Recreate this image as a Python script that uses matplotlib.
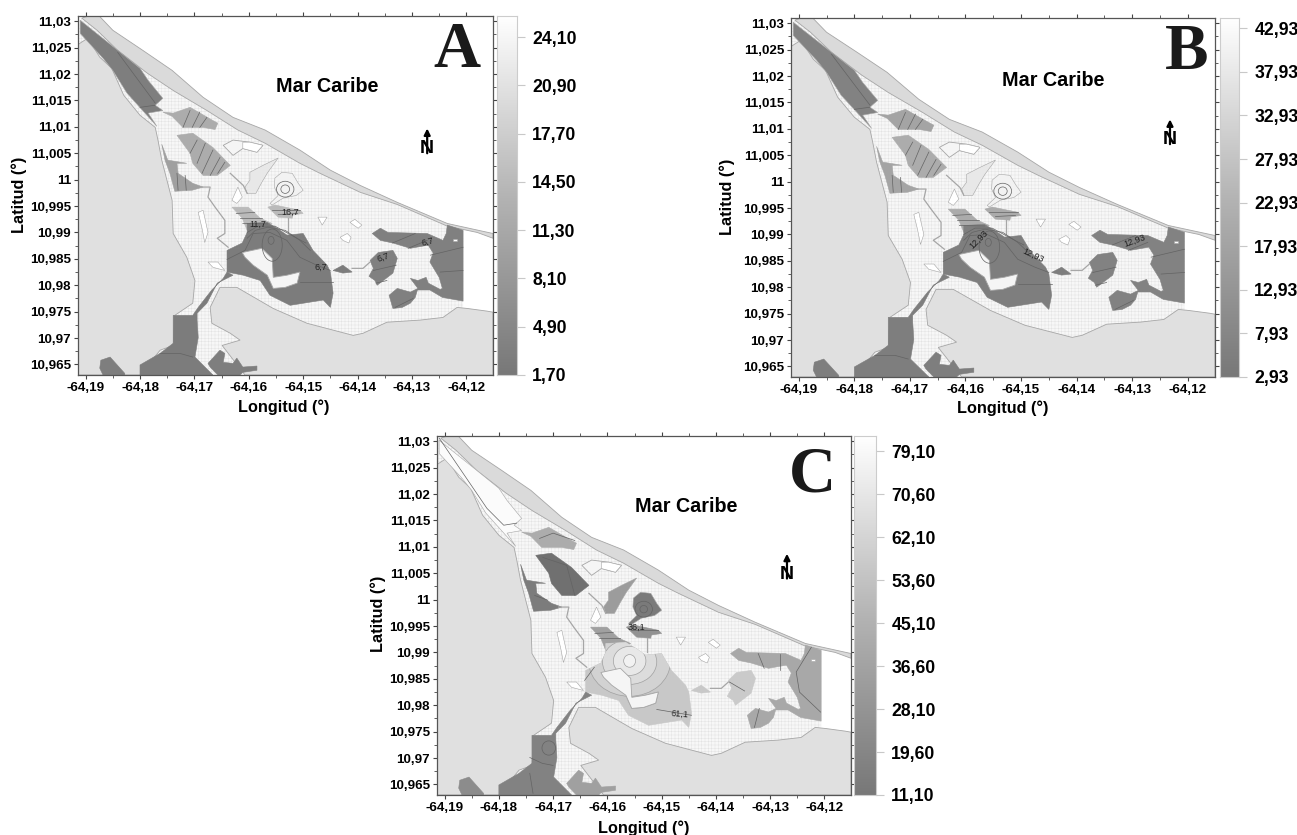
#!/usr/bin/env python3
import numpy as np
from matplotlib import pyplot as plt
from matplotlib.colors import LinearSegmentedColormap
from matplotlib.patches import Polygon, Ellipse

plt.rcParams['font.family'] = ['Liberation Sans', 'DejaVu Sans']
plt.rcParams['hatch.linewidth'] = 0.3

FIG_W, FIG_H = 1297, 835

# ejes
LON_TICKS = [-64.19, -64.18, -64.17, -64.16, -64.15, -64.14, -64.13, -64.12]
LON_LABELS = ['-64,19', '-64,18', '-64,17', '-64,16', '-64,15', '-64,14', '-64,13', '-64,12']
LAT_TICKS = [10.965, 10.97, 10.975, 10.98, 10.985, 10.99, 10.995, 11.0, 11.005, 11.01, 11.015, 11.02, 11.025, 11.03]
LAT_LABELS = ['10,965', '10,97', '10,975', '10,98', '10,985', '10,99', '10,995', '11', '11,005', '11,01', '11,015', '11,02', '11,025', '11,03']
LON_LIM = (-64.1914, -64.1151)
LAT_LIM = (10.963, 11.031)

# barras de color
CBAR_A = [1.7, 4.9, 8.1, 11.3, 14.5, 17.7, 20.9, 24.1]
CBAR_B = [2.93, 7.93, 12.93, 17.93, 22.93, 27.93, 32.93, 37.93, 42.93]
CBAR_C = [11.1, 19.6, 28.1, 36.6, 45.1, 53.6, 62.1, 70.6, 79.1]
CBAR_TOP = {'A': 25.5, 'B': 44.1, 'C': 82.1}

# geografia (lon, lat)
LAGOON = [(-64.1907, 11.0306), (-64.1841, 11.0255), (-64.1739, 11.018), (-64.1620, 11.010), (-64.1506, 11.0045),
          (-64.1395, 10.9982), (-64.1235, 10.9915), (-64.1206, 10.9907), (-64.1206, 10.9750), (-64.1206, 10.9630),
          (-64.1914, 10.9630), (-64.1914, 11.0300)]
BARRIER = [(-64.1898, 11.0309), (-64.1874, 11.0309), (-64.1850, 11.0283), (-64.1795, 11.0245), (-64.1741, 11.0207),
           (-64.1684, 11.0156), (-64.1629, 11.0118), (-64.1570, 11.0094), (-64.1506, 11.0056), (-64.1450, 11.0018),
           (-64.1395, 10.9989), (-64.1327, 10.9957), (-64.1235, 10.9917), (-64.1151, 10.9898), (-64.1151, 10.9889),
           (-64.1180, 10.9900), (-64.1235, 10.9912), (-64.1327, 10.9953), (-64.1395, 10.9976), (-64.1469, 11.0012),
           (-64.1506, 11.0031), (-64.1570, 11.0069), (-64.1620, 11.0094), (-64.1677, 11.0131), (-64.1739, 11.0169),
           (-64.1787, 11.0202), (-64.1841, 11.0245), (-64.1879, 11.0283), (-64.1907, 11.0306)]
WEST_LAND = [(-64.1914, 11.0256), (-64.1896, 11.0268), (-64.1874, 11.0232), (-64.1852, 11.0211), (-64.1830, 11.0160),
             (-64.1800, 11.0122), (-64.1772, 11.0099), (-64.1767, 11.0075), (-64.1760, 11.0037), (-64.1741, 10.9961),
             (-64.1739, 10.9898), (-64.1714, 10.9853), (-64.1699, 10.9809), (-64.1703, 10.9766), (-64.1736, 10.9743),
             (-64.1739, 10.9686), (-64.1763, 10.9677), (-64.1800, 10.9630), (-64.1914, 10.9630)]
SOUTH_LAND = [(-64.1671, 10.9758), (-64.1653, 10.9796), (-64.1622, 10.9796), (-64.1555, 10.9756), (-64.1493, 10.9728),
              (-64.1408, 10.9705), (-64.1390, 10.9709), (-64.1346, 10.9730), (-64.1285, 10.9734), (-64.1243, 10.9739),
              (-64.1217, 10.9758), (-64.1198, 10.9756), (-64.1162, 10.9751), (-64.1151, 10.9749), (-64.1151, 10.9630),
              (-64.1607, 10.9630), (-64.1649, 10.9686), (-64.1616, 10.9696), (-64.1634, 10.9709), (-64.1668, 10.9728)]

# zonas de la laguna
NW_ZONE = [(-64.1910, 11.0302), (-64.1841, 11.0245), (-64.1800, 11.0211), (-64.1785, 11.0188), (-64.1758, 11.0154),
           (-64.1772, 11.0141), (-64.1758, 11.0131), (-64.1785, 11.0126), (-64.1769, 11.0101), (-64.1824, 11.0164),
           (-64.1850, 11.0207), (-64.1868, 11.0230), (-64.1910, 11.0277)]
ZONE_2 = [(-64.1758, 11.0128), (-64.1739, 11.0126), (-64.1708, 11.0137), (-64.1666, 11.0112), (-64.1657, 11.0107),
          (-64.1662, 11.0095), (-64.1684, 11.0099), (-64.1721, 11.0099), (-64.1741, 11.0120)]
ZONE_3 = [(-64.1732, 11.0084), (-64.1703, 11.0088), (-64.1666, 11.0061), (-64.1634, 11.0027), (-64.1658, 11.0008),
          (-64.1684, 11.0008), (-64.1703, 11.0031), (-64.1708, 11.0050)]
ZONE_4 = [(-64.1760, 11.0067), (-64.1749, 11.0037), (-64.1714, 11.0031), (-64.1732, 11.0031), (-64.1730, 11.0012),
          (-64.1703, 10.9993), (-64.1684, 10.9986), (-64.1704, 10.9980), (-64.1736, 10.9978), (-64.1745, 11.0012),
          (-64.1754, 11.0037)]
ZONE_9 = [(-64.1631, 10.9948), (-64.1601, 10.9948), (-64.1579, 10.9927), (-64.1557, 10.9917), (-64.1603, 10.9904),
          (-64.1612, 10.9927)]
ZONE_10 = [(-64.1565, 10.9948), (-64.1552, 10.9952), (-64.1506, 10.9942), (-64.1500, 10.9936), (-64.1519, 10.9933),
           (-64.1520, 10.9927), (-64.1546, 10.9929)]
LAKE = [(-64.1640, 10.9866), (-64.1612, 10.9880), (-64.1603, 10.9900), (-64.1603, 10.9917), (-64.1566, 10.9919),
        (-64.1548, 10.9908), (-64.1530, 10.9895), (-64.1500, 10.9898), (-64.1482, 10.9866), (-64.1456, 10.9838),
        (-64.1450, 10.9825), (-64.1445, 10.9785), (-64.1450, 10.9758), (-64.1463, 10.9772), (-64.1524, 10.9762),
        (-64.1561, 10.9781), (-64.1579, 10.9809), (-64.1610, 10.9819), (-64.1640, 10.9825)]
CHANNEL = [(-64.1629, 10.9819), (-64.1658, 10.9804), (-64.1677, 10.9766), (-64.1695, 10.9747), (-64.1695, 10.9734),
           (-64.1693, 10.9701), (-64.1699, 10.9664), (-64.1666, 10.9630), (-64.1800, 10.9630), (-64.1800, 10.9649),
           (-64.1763, 10.9671), (-64.1739, 10.9690), (-64.1739, 10.9743), (-64.1703, 10.9743), (-64.1693, 10.9758),
           (-64.1668, 10.9791), (-64.1647, 10.9813), (-64.1640, 10.9825)]
ISLAND = [(-64.1612, 10.9862), (-64.1576, 10.9870), (-64.1557, 10.9851), (-64.1555, 10.9815), (-64.1530, 10.9819),
          (-64.1506, 10.9825), (-64.1511, 10.9804), (-64.1533, 10.9796), (-64.1555, 10.9794), (-64.1566, 10.9819),
          (-64.1592, 10.9838), (-64.1607, 10.9853)]
SOUTH_BAY = [(-64.1675, 10.9652), (-64.1653, 10.9677), (-64.1644, 10.9671), (-64.1647, 10.9654), (-64.1629, 10.9652),
             (-64.1622, 10.9662), (-64.1611, 10.9645), (-64.1585, 10.9647), (-64.1585, 10.9639), (-64.1611, 10.9635),
             (-64.1616, 10.9630), (-64.1657, 10.9630), (-64.1671, 10.9645)]
WEST_BLOB = [(-64.1872, 10.9658), (-64.1855, 10.9664), (-64.1828, 10.9633), (-64.1828, 10.9630), (-64.1868, 10.9630),
             (-64.1874, 10.9643)]
EAST_ZONE = [(-64.1373, 10.9898), (-64.1358, 10.9908), (-64.1344, 10.9900), (-64.1272, 10.9898), (-64.1243, 10.9885),
             (-64.1237, 10.9898), (-64.1235, 10.9914), (-64.1206, 10.9904), (-64.1206, 10.9770), (-64.1244, 10.9777),
             (-64.1267, 10.9791), (-64.1290, 10.9791), (-64.1294, 10.9777), (-64.1303, 10.9766), (-64.1318, 10.9758),
             (-64.1335, 10.9756), (-64.1342, 10.9781), (-64.1327, 10.9794), (-64.1303, 10.9787), (-64.1289, 10.9794),
             (-64.1303, 10.9813), (-64.1289, 10.9809), (-64.1274, 10.9815), (-64.1270, 10.9804), (-64.1248, 10.9792),
             (-64.1244, 10.9794), (-64.1250, 10.9815), (-64.1267, 10.9844), (-64.1261, 10.9861), (-64.1270, 10.9876),
             (-64.1303, 10.9870), (-64.1335, 10.9880), (-64.1358, 10.9885)]
ZONE_7 = [(-64.1377, 10.9847), (-64.1362, 10.9862), (-64.1335, 10.9866), (-64.1327, 10.9851), (-64.1335, 10.9823),
          (-64.1364, 10.9800), (-64.1368, 10.9809), (-64.1379, 10.9817), (-64.1371, 10.9832)]
LOOP = [(-64.1445, 10.9828), (-64.1427, 10.9838), (-64.1410, 10.9825), (-64.1427, 10.9823)]
POND_1 = [(-64.1598, 11.0014), (-64.1574, 11.0027), (-64.1546, 11.0041), (-64.1565, 11.0014), (-64.1576, 10.9995),
          (-64.1587, 10.9974), (-64.1603, 10.9974), (-64.1607, 10.9986), (-64.1598, 10.9999)]
POND_2 = [(-64.1552, 11.0003), (-64.1539, 11.0014), (-64.1520, 11.0012), (-64.1509, 10.9993), (-64.1500, 10.9980),
          (-64.1513, 10.9970), (-64.1537, 10.9965), (-64.1557, 10.9952), (-64.1561, 10.9955), (-64.1546, 10.9970),
          (-64.1553, 10.9986)]
POND_3 = [(-64.1647, 11.0065), (-64.1629, 11.0075), (-64.1598, 11.0071), (-64.1574, 11.0065), (-64.1585, 11.0052),
          (-64.1611, 11.0059), (-64.1629, 11.0046)]

# huecos sin dato
HOLES = [
    [(-64.1631, 10.9961), (-64.1620, 10.9986), (-64.1612, 10.9967), (-64.1622, 10.9955)],
    [(-64.1611, 11.0071), (-64.1598, 11.0071), (-64.1574, 11.0065), (-64.1585, 11.0052), (-64.1611, 11.0059)],
    [(-64.1473, 10.9929), (-64.1456, 10.9929), (-64.1465, 10.9914)],
    [(-64.1414, 10.9919), (-64.1405, 10.9925), (-64.1392, 10.9914), (-64.1399, 10.9908)],
    [(-64.1432, 10.9891), (-64.1419, 10.9898), (-64.1412, 10.9891), (-64.1416, 10.9880), (-64.1427, 10.9885)],
    [(-64.1675, 10.9844), (-64.1657, 10.9844), (-64.1644, 10.9828), (-64.1666, 10.9834)],
    [(-64.1693, 10.9938), (-64.1684, 10.9942), (-64.1675, 10.9900), (-64.1681, 10.9881), (-64.1686, 10.9908)],
    [(-64.1224, 10.9887), (-64.1217, 10.9887), (-64.1217, 10.9883), (-64.1224, 10.9883)],
]
STREAMS = [
    [(-64.1634, 11.0012), (-64.1610, 10.9989), (-64.1603, 10.9974)],
    [(-64.1690, 10.9986), (-64.1671, 10.9986), (-64.1675, 10.9967), (-64.1662, 10.9948), (-64.1644, 10.9923),
     (-64.1644, 10.9898), (-64.1658, 10.9889), (-64.1638, 10.9872)],
    [(-64.1527, 10.9927), (-64.1527, 10.9900)],
    [(-64.1410, 10.9832), (-64.1390, 10.9832), (-64.1377, 10.9844)],
]

# isolineas comunes a A y B
CONTOURS_AB = [
    [(-64.1841, 11.0241), (-64.1772, 11.0145)], [(-64.1800, 11.0137), (-64.1772, 11.0141)],
    [(-64.1708, 11.0131), (-64.1721, 11.0099)], [(-64.1690, 11.0128), (-64.1704, 11.0099)],
    [(-64.1677, 11.0118), (-64.1690, 11.0099)],
    [(-64.1695, 11.0075), (-64.1708, 11.0050)], [(-64.1680, 11.0069), (-64.1695, 11.0031)],
    [(-64.1666, 11.0056), (-64.1686, 11.0012)], [(-64.1653, 11.0042), (-64.1671, 11.0008)],
    [(-64.1644, 11.0033), (-64.1657, 11.0012)],
    [(-64.1732, 11.0012), (-64.1730, 10.9980)], [(-64.1717, 11.0008), (-64.1715, 10.9980)],
    [(-64.1623, 10.9936), (-64.1589, 10.9938)], [(-64.1616, 10.9927), (-64.1576, 10.9927)],
    [(-64.1611, 10.9917), (-64.1565, 10.9916)],
    [(-64.1557, 10.9942), (-64.1506, 10.9942)], [(-64.1546, 10.9934), (-64.1510, 10.9936)],
    [(-64.1640, 10.9849), (-64.1607, 10.9866), (-64.1592, 10.9898), (-64.1561, 10.9900), (-64.1530, 10.9885),
     (-64.1506, 10.9853), (-64.1475, 10.9838), (-64.1450, 10.9828)],
    [(-64.1603, 10.9889), (-64.1588, 10.9904), (-64.1565, 10.9910), (-64.1533, 10.9904), (-64.1506, 10.9885),
     (-64.1487, 10.9866)],
    [(-64.1603, 10.9900), (-64.1583, 10.9912), (-64.1552, 10.9912), (-64.1515, 10.9891), (-64.1495, 10.9880)],
    [(-64.1506, 10.9806), (-64.1445, 10.9806)],
    [(-64.1336, 10.9880), (-64.1294, 10.9898)], [(-64.1307, 10.9870), (-64.1272, 10.9885)],
    [(-64.1266, 10.9857), (-64.1206, 10.9872)], [(-64.1248, 10.9825), (-64.1206, 10.9828)],
    [(-64.1371, 10.9828), (-64.1329, 10.9838)], [(-64.1366, 10.9804), (-64.1346, 10.9809)],
    [(-64.1331, 10.9758), (-64.1298, 10.9775)],
    [(-64.1763, 10.9671), (-64.1727, 10.9671), (-64.1703, 10.9664)],
]
# isolineas de C
CONTOURS_C = [
    [(-64.1910, 11.0306), (-64.1822, 11.0173), (-64.1791, 11.0141), (-64.1767, 11.0145)],
    [(-64.1725, 11.0116), (-64.1700, 11.0126), (-64.1660, 11.0112)],
    [(-64.1719, 11.0080), (-64.1675, 11.0065), (-64.1660, 11.0008)],
    [(-64.1734, 11.0008), (-64.1710, 10.9999)],
    [(-64.1623, 10.9936), (-64.1589, 10.9938)], [(-64.1616, 10.9927), (-64.1576, 10.9927)],
    [(-64.1557, 10.9942), (-64.1506, 10.9942)],
    [(-64.1509, 10.9792), (-64.1445, 10.9781)], [(-64.1642, 10.9847), (-64.1624, 10.9872)],
    [(-64.1743, 10.9701), (-64.1720, 10.9690), (-64.1700, 10.9686)], [(-64.1743, 10.9671), (-64.1737, 10.9633)],
    [(-64.1322, 10.9898), (-64.1311, 10.9870)], [(-64.1281, 10.9898), (-64.1281, 10.9866)],
    [(-64.1224, 10.9910), (-64.1252, 10.9863), (-64.1246, 10.9825), (-64.1207, 10.9787)],
    [(-64.1375, 10.9844), (-64.1347, 10.9827)], [(-64.1320, 10.9794), (-64.1329, 10.9758)],
]
# (lon, lat, ancho, alto)
RINGS_AB = [(-64.1559, 10.9885, 0.0011, 0.0015), (-64.1557, 10.9876, 0.0037, 0.0061),
            (-64.1533, 10.9982, 0.0016, 0.0016), (-64.1533, 10.9982, 0.0032, 0.0030)]
RINGS_C_LAKE = [(-64.1559, 10.9882, 0.0150, 0.0130), (-64.1559, 10.9882, 0.0100, 0.0085),
                (-64.1559, 10.9884, 0.0060, 0.0055), (-64.1559, 10.9884, 0.0022, 0.0024)]
RINGS_C_DARK = [(-64.1533, 10.9982, 0.0014, 0.0014), (-64.1533, 10.9982, 0.0032, 0.0030),
                (-64.1708, 10.9719, 0.0025, 0.0027)]

# etiquetas de isolineas (texto, lon, lat, giro)
LABELS_A = [('6,7', -64.1467, 10.9834, 0), ('6,7', -64.1353, 10.9853, 20), ('6,7', -64.1272, 10.9882, 15),
            ('11,7', -64.1583, 10.9916, 0), ('16,7', -64.1524, 10.9938, 0)]
LABELS_B = [('12,93', -64.1577, 10.9891, 45), ('12,93', -64.1478, 10.9861, -25), ('12,93', -64.1296, 10.9889, 20)]
LABELS_C = [('61,1', -64.1467, 10.9783, -5), ('36,1', -64.1546, 10.9948, 0)]

# flecha norte (lon, lat arriba, lat abajo)
NORTH = {'A': (-64.1272, 11.0097, 11.0050), 'B': (-64.1232, 11.0118, 11.0071), 'C': (-64.1269, 11.0087, 11.0040)}


# grises de cada zona por panel
SHADES = {
    'A': dict(nw='#7e7e7e', z2='#acacac', z3='#acacac', z4='#a0a0a0', z9='#bababa', z10='#bababa', lake='#7c7c7c',
              channel='#7c7c7c', bay='#7e7e7e', blob='#7e7e7e', east='#808080', z7='#808080', p1='#e8e8e8', p2='#f2f2f2'),
    'B': dict(nw='#828282', z2='#a4a4a4', z3='#acacac', z4='#a4a4a4', z9='#ababab', z10='#ababab', lake='#7e7e7e',
              channel='#7e7e7e', bay='#7e7e7e', blob='#7e7e7e', east='#828282', z7='#828282', p1='#e8e8e8', p2='#f2f2f2'),
    'C': dict(nw='#fbfbfb', z2='#acacac', z3='#707070', z4='#7c7c7c', z9='#a0a0a0', z10='#929292', lake='#c8c8c8',
              channel='#828282', bay='#a0a0a0', blob='#8c8c8c', east='#a8a8a8', z7='#cacaca', p1='#9c9c9c', p2='#7a7a7a'),
}
ZONES = [('nw', NW_ZONE), ('z2', ZONE_2), ('z3', ZONE_3), ('z4', ZONE_4), ('p1', POND_1), ('p2', POND_2),
         ('z9', ZONE_9), ('z10', ZONE_10), ('lake', LAKE), ('channel', CHANNEL), ('bay', SOUTH_BAY), ('blob', WEST_BLOB),
         ('east', EAST_ZONE), ('z7', ZONE_7), ('lake', LOOP)]
EDGE = '#a6a6a6'
LINE = '#636363'


def px_axes(fig, left, top, right, bottom):
    return fig.add_axes([left / FIG_W, 1 - bottom / FIG_H, (right - left) / FIG_W, (bottom - top) / FIG_H])


def add_poly(ax, pts, face, **kw):
    ax.add_patch(Polygon(pts, closed=True, facecolor=face, edgecolor=kw.pop('edge', EDGE), linewidth=kw.pop('lw', 0.6), **kw))


def draw_map(ax, name, contours, rings, labels):
    ax.set_xlim(*LON_LIM)
    ax.set_ylim(*LAT_LIM)
    shade = SHADES[name]

    # laguna con la malla del modelo
    ax.add_patch(Polygon(LAGOON, closed=True, facecolor='#f7f7f7', edgecolor='#e0e0e0', hatch='+++++', linewidth=0))
    add_poly(ax, BARRIER, '#dadada')
    add_poly(ax, WEST_LAND, '#e0e0e0')
    add_poly(ax, SOUTH_LAND, '#e0e0e0')
    add_poly(ax, POND_3, '#f5f5f5')
    for stream in STREAMS:
        xy = np.array(stream)
        ax.plot(xy[:, 0], xy[:, 1], color=EDGE, lw=0.9)
    for key, pts in ZONES:
        add_poly(ax, pts, shade[key], edge=shade[key] if key not in ('p1', 'p2', 'nw') else EDGE, lw=0.4)
    add_poly(ax, ISLAND, '#f5f5f5')
    for hole in HOLES:
        add_poly(ax, hole, 'white', lw=0.4)

    # el lago de C aclara hacia el centro
    if name == 'C':
        lake_clip = Polygon(LAKE, closed=True, transform=ax.transData)
        for (x, y, w, h), grey in zip(RINGS_C_LAKE, ['#d2d2d2', '#dcdcdc', '#e8e8e8', '#f2f2f2']):
            e = Ellipse((x, y), w, h, facecolor=grey, edgecolor='#a0a0a0', lw=0.5)
            ax.add_patch(e)
            e.set_clip_path(lake_clip)
        add_poly(ax, ISLAND, '#f5f5f5')
    for x, y, w, h in rings:
        ax.add_patch(Ellipse((x, y), w, h, facecolor='none', edgecolor=LINE, lw=0.5))
    for line in contours:
        xy = np.array(line)
        ax.plot(xy[:, 0], xy[:, 1], color=LINE, lw=0.5)
    for text, x, y, rot in labels:
        ax.text(x, y, text, fontsize=6.5, rotation=rot, ha='center', va='center', color='#222222')

    # norte
    lon, lat_top, lat_bot = NORTH[name]
    ax.annotate('', xy=(lon, lat_top), xytext=(lon, lat_bot),
                arrowprops=dict(arrowstyle='-|>', color='black', lw=1.6, mutation_scale=9, shrinkA=0, shrinkB=0))
    ax.text(lon, lat_bot, 'N', fontsize=14, fontweight='bold', ha='center', va='baseline', color='black')

    ax.set_xticks(LON_TICKS, LON_LABELS)
    ax.set_yticks(LAT_TICKS, LAT_LABELS)
    ax.set_xticks(np.array(LON_TICKS[:-1]) + 0.005, minor=True)
    ax.set_yticks(np.array(LAT_TICKS[:-1]) + 0.0025, minor=True)
    ax.tick_params(which='major', length=3, width=0.8, color='#444444', top=True, right=True, pad=2)
    ax.tick_params(which='minor', length=2, width=0.6, color='#444444', top=True, right=True)
    for lab in ax.get_xticklabels() + ax.get_yticklabels():
        lab.set_fontsize(9.6)
        lab.set_fontweight('bold')
    for sp in ax.spines.values():
        sp.set_color('#555555')
        sp.set_linewidth(0.9)


def draw_cbar(ax, ticks, top):
    cmap = LinearSegmentedColormap.from_list('grises', ['#787878', '#b4b4b4', '#ffffff'])
    grad = np.linspace(0, 1, 256).reshape(-1, 1)
    ax.imshow(grad, origin='lower', aspect='auto', cmap=cmap, extent=(0, 1, ticks[0], top))
    ax.set_xticks([])
    ax.yaxis.tick_right()
    ax.set_yticks(ticks, [f'{t:.2f}'.replace('.', ',') for t in ticks])
    ax.tick_params(length=6, width=0.8, color='#c8c8c8', pad=5)
    for lab in ax.get_yticklabels():
        lab.set_fontsize(12.7)
        lab.set_fontweight('bold')
    for sp in ax.spines.values():
        sp.set_color('#cccccc')


if __name__ == '__main__':
    fig = plt.figure(figsize=(FIG_W / 100, FIG_H / 100), dpi=100)

    ax_a = px_axes(fig, 78, 16, 493, 375)
    ax_b = px_axes(fig, 791, 18, 1215, 377)
    ax_c = px_axes(fig, 437, 436, 851, 795)
    draw_map(ax_a, 'A', CONTOURS_AB, RINGS_AB, LABELS_A)
    draw_map(ax_b, 'B', CONTOURS_AB, RINGS_AB, LABELS_B)
    draw_map(ax_c, 'C', CONTOURS_C, RINGS_C_DARK, LABELS_C)

    draw_cbar(px_axes(fig, 497, 16, 517, 375), CBAR_A, CBAR_TOP['A'])
    draw_cbar(px_axes(fig, 1220, 18, 1239, 377), CBAR_B, CBAR_TOP['B'])
    draw_cbar(px_axes(fig, 854, 436, 876, 795), CBAR_C, CBAR_TOP['C'])

    def fig_text(x, y, s, **kw):
        fig.text(x / FIG_W, 1 - y / FIG_H, s, **kw)

    for x, y in [(327, 86), (1053, 81), (686, 507)]:
        fig_text(x, y, 'Mar Caribe', fontsize=14.2, fontweight='bold', ha='center', va='center')
    for x, y in [(284, 407), (1003, 408), (644, 828)]:
        fig_text(x, y, 'Longitud (°)', fontsize=11.7, fontweight='bold', ha='center', va='center')
    for x, y in [(19, 195), (727, 197), (378, 614)]:
        fig_text(x, y, 'Latitud (°)', fontsize=11.7, fontweight='bold', ha='center', va='center', rotation=90)
    for x, y, s in [(457, 67, 'A'), (1187, 69, 'B'), (812, 491, 'C')]:
        fig_text(x, y, s, fontsize=47, fontweight='bold', family=['Liberation Serif', 'DejaVu Serif'],
                 ha='center', va='baseline', color='#1a1a1a')

    fig.savefig('out.png', dpi=100)
